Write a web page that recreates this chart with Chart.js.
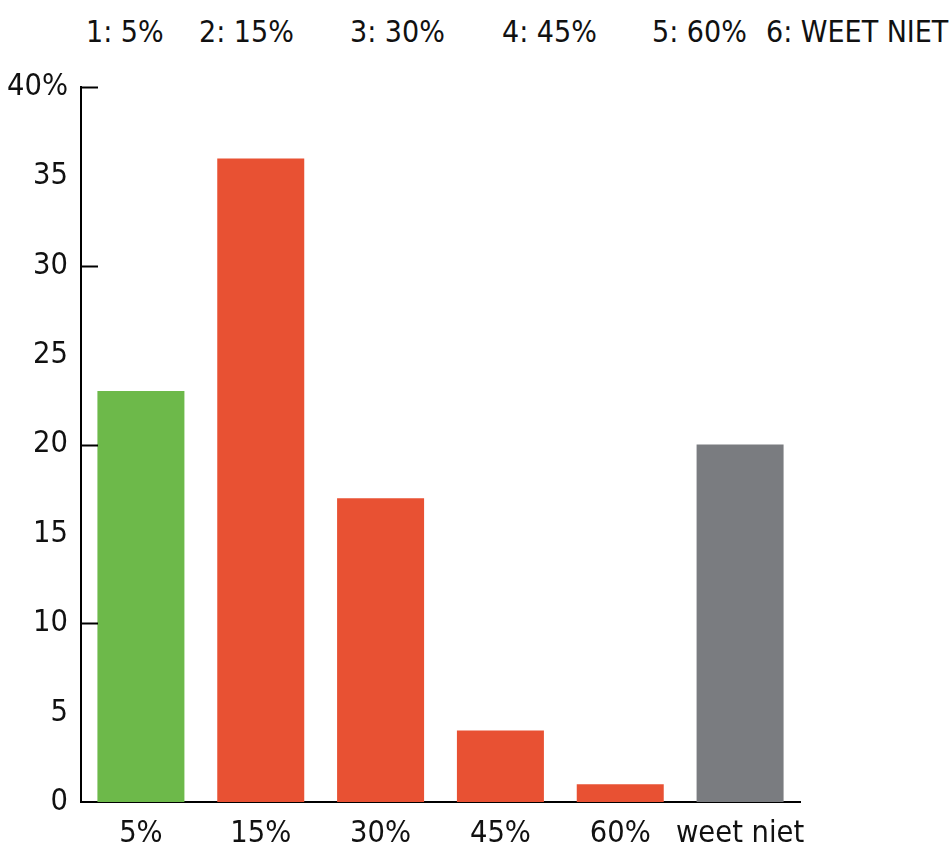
<!DOCTYPE html>
<html>
<head>
<meta charset="utf-8">
<script src="https://cdn.jsdelivr.net/npm/chart.js@4/dist/chart.umd.min.js"></script>
<style>
body{margin:0;background:#fff;}
#wrap{position:relative;width:951px;height:848px;}
#hdr span{position:absolute;top:14px;font:30px "DejaVu Sans Condensed",sans-serif;font-stretch:condensed;color:#111;white-space:nowrap;}
canvas{position:absolute;left:0;top:0;}
</style>
</head>
<body>
<div id="wrap">
<div id="hdr"></div>
<canvas id="c" width="951" height="848"></canvas>
</div>
<script>
const categories=["5%","15%","30%","45%","60%","weet niet"];
const values=[23,36,17,4,1,20];
const barColors=["#6db94a","#e85133","#e85133","#e85133","#e85133","#7a7c80"];
const headerLabels=["1: 5%","2: 15%","3: 30%","4: 45%","5: 60%","6: WEET NIET"];
const headerLeft=[86,199,350,502,652,766];
const markedTicks=[10,20,30,40];

const hdr=document.getElementById("hdr");
headerLabels.forEach((t,i)=>{
 const s=document.createElement("span");
 s.textContent=t;s.style.left=headerLeft[i]+"px";
 hdr.appendChild(s);
});

const FONT="'DejaVu Sans Condensed', sans-serif";

// short tick marks drawn inside the plot, to the right of the y axis
const innerTicks={
 id:"innerTicks",
 afterDatasetsDraw(chart){
  const {ctx,chartArea,scales:{y}}=chart;
  ctx.save();
  ctx.strokeStyle="#000";ctx.lineWidth=2;
  markedTicks.forEach(v=>{
   const py=Math.round(y.getPixelForValue(v))+0.5;
   ctx.beginPath();ctx.moveTo(chartArea.left,py);ctx.lineTo(chartArea.left+17,py);ctx.stroke();
  });
  ctx.restore();
 }
};

new Chart(document.getElementById("c"),{
 type:"bar",
 data:{labels:categories,datasets:[{data:values,backgroundColor:barColors,barPercentage:0.726,categoryPercentage:1}]},
 options:{
  responsive:false,animation:false,
  layout:{padding:{top:87,right:151,bottom:0,left:0}},
  plugins:{legend:{display:false},tooltip:{enabled:false}},
  scales:{
   x:{
    grid:{display:false,drawTicks:false},
    border:{display:true,color:"#000",width:2},
    ticks:{color:"#111",font:{family:FONT,size:30.5},padding:14,maxRotation:0,autoSkip:false},
    afterFit(s){s.height=46;}
   },
   y:{
    min:0,max:40,
    grid:{display:false,drawTicks:false},
    border:{display:true,color:"#000",width:2},
    ticks:{stepSize:5,color:"#111",font:{family:FONT,size:30.5},padding:13,
     callback:v=>v===40?"40%":v},
    afterFit(s){s.width=81;}
   }
  }
 },
 plugins:[innerTicks]
});
</script>
</body>
</html>
